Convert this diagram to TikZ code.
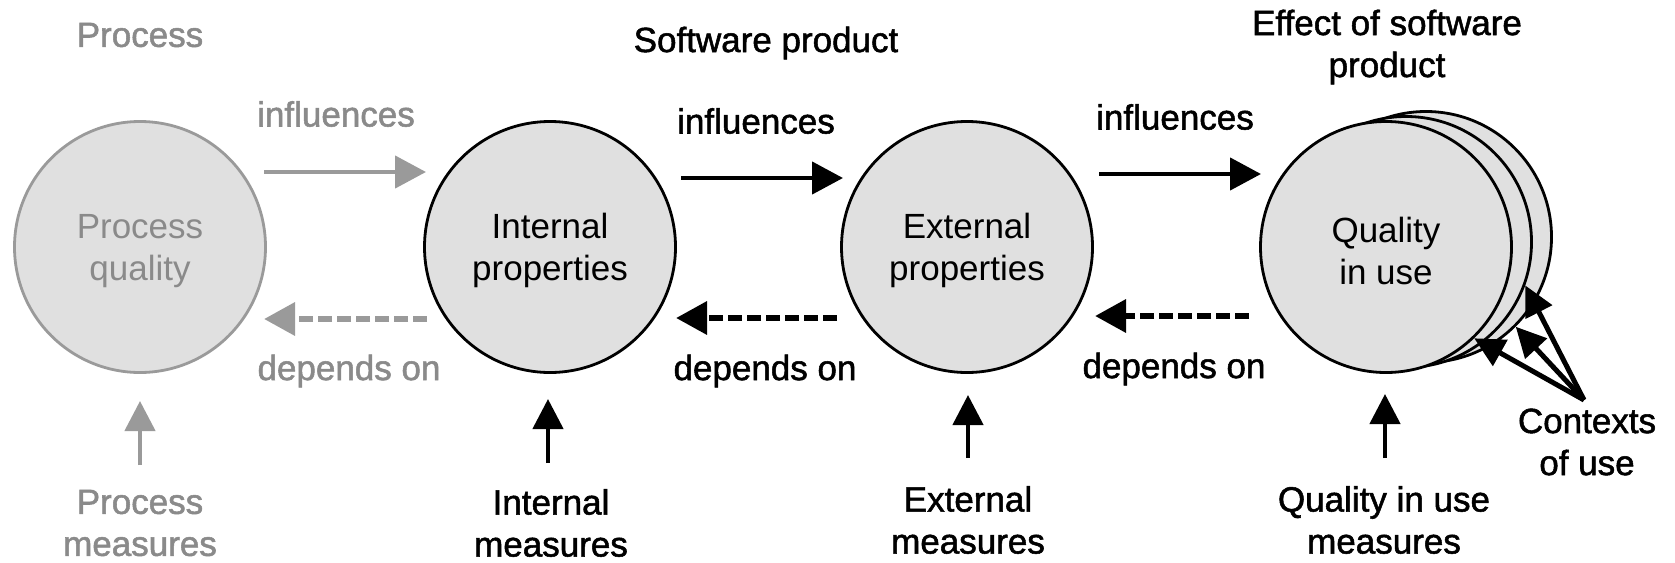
\documentclass[tikz,border=0pt]{standalone}
\usepackage{fontspec}
\setmainfont{Liberation Sans}
\newfontfamily\lblfont{Liberation Sans}[FakeBold=1.5]
\usetikzlibrary{arrows.meta}
\definecolor{cfill}{HTML}{E0E0E0}
\definecolor{gline}{HTML}{9A9A9A}
\definecolor{gtext}{HTML}{8A8A8A}
\newcommand\cstrut{\rule{0pt}{33pt}}
\begin{document}
\begin{tikzpicture}[x=1pt,y=-1pt,
  circ/.style={circle, draw=black, line width=2.8pt, fill=cfill, minimum size=251pt,
    inner sep=0pt, align=center, font=\fontsize{35}{42}\selectfont},
  gcirc/.style={circ, draw=gline, text=gtext},
  lbl/.style={align=center, font=\lblfont\fontsize{35}{42}\selectfont, inner sep=0pt},
  glbl/.style={lbl, text=gtext},
  arr/.style={line width=4.5pt, -{Triangle[length=31pt,width=32pt]}},
  darr/.style={arr, line width=6.5pt, dash pattern=on 14pt off 5pt},
  grey/.style={draw=gline, color=gline},
  varr/.style={line width=4.5pt, -{Triangle[length=30pt,width=30pt]}},
  carr/.style={line width=5pt, -{Triangle[length=30pt,width=29pt]}}
]
\useasboundingbox (0,0) rectangle (1675,562);
\fill[white] (0,0) rectangle (1675,562);

% circles
\node[gcirc] (pq) at (140,247) {\cstrut Process\\quality};
\node[circ] (ip) at (550,247) {\cstrut Internal\\properties};
\node[circ] (ep) at (967,247) {\cstrut External\\properties};
\node[circ] (qu3) at (1426,237) {};
\node[circ] (qu2) at (1406,242) {};
\node[circ] (qu) at (1386,247) {\cstrut Quality\\in use};

% top labels
\node[glbl] (tproc) at (140,35) {Process};
\node[lbl] (tsoft) at (766,43) {Software product};
\node[lbl] (teff) at (1387,47) {Effect of software\\product};

% influences
\node[glbl] (inf1) at (336,114) {influences};
\node[lbl] (inf2) at (756,121) {influences};
\node[lbl] (inf3) at (1175,117) {influences};
\coordinate (i1a) at (264,172); \coordinate (i1b) at (426,172);
\coordinate (i2a) at (681,178); \coordinate (i2b) at (843,178);
\coordinate (i3a) at (1099,174); \coordinate (i3b) at (1261,174);
\draw[arr,grey] (i1a) -- (i1b);
\draw[arr] (i2a) -- (i2b);
\draw[arr] (i3a) -- (i3b);

% depends on
\node[glbl] (dep1) at (349,371) {depends on};
\node[lbl] (dep2) at (765,371) {depends on};
\node[lbl] (dep3) at (1174,369) {depends on};
\coordinate (d1a) at (427,319); \coordinate (d1b) at (264,319);
\coordinate (d2a) at (837,318); \coordinate (d2b) at (676,318);
\coordinate (d3a) at (1249,316); \coordinate (d3b) at (1095,316);
\draw[darr,grey] (d1a) -- (d1b);
\draw[darr] (d2a) -- (d2b);
\draw[darr] (d3a) -- (d3b);

% measures
\node[glbl] (pm) at (140,523) {Process\\measures};
\node[lbl] (im) at (551,523) {Internal\\measures};
\node[lbl] (em) at (968,520) {External\\measures};
\node[lbl] (qm) at (1384,520) {Quality in use\\measures};
\coordinate (v1a) at (140,465); \coordinate (v1b) at (140,401);
\coordinate (v2a) at (548,463); \coordinate (v2b) at (548,399);
\coordinate (v3a) at (968,458); \coordinate (v3b) at (968,395);
\coordinate (v4a) at (1385,458); \coordinate (v4b) at (1385,394);
\draw[varr,grey] (v1a) -- (v1b);
\draw[varr] (v2a) -- (v2b);
\draw[varr] (v3a) -- (v3b);
\draw[varr] (v4a) -- (v4b);

% contexts of use
\node[lbl] (ctxl) at (1587,442) {Contexts\\of use};
\coordinate (ctx) at (1584,400);
\draw[carr] (ctx) -- (qu.-46);
\draw[carr] (ctx) -- (qu3.-45);
\draw[carr] (ctx) -- (qu2.-20);
\end{tikzpicture}
\end{document}
